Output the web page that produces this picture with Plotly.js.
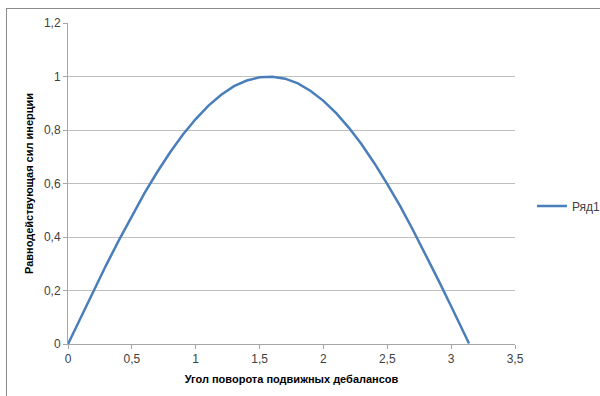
<!DOCTYPE html>
<html>
<head>
<meta charset="utf-8">
<script src="https://cdn.plot.ly/plotly-3.0.1.min.js"></script>
<style>
  html, body { margin: 0; padding: 0; background: #ffffff; overflow: hidden; }
  #wrap { position: relative; width: 600px; height: 396px; }
  #chart { position: absolute; left: 0; top: 0; width: 600px; height: 396px; }
  #frame { position: absolute; left: 6px; top: 8px; width: 700px; height: 500px;
           border: 1px solid #8a8a8a; pointer-events: none; }
</style>
</head>
<body>
<div id="wrap">
  <div id="chart"></div>
  <div id="frame"></div>
</div>
<script>
// Angle of rotation of the movable unbalances (rad)
const angle = [0, 0.1, 0.2, 0.3, 0.4, 0.5, 0.6, 0.7, 0.8, 0.9, 1.0,
               1.1, 1.2, 1.3, 1.4, 1.5, 1.6, 1.7, 1.8, 1.9, 2.0,
               2.1, 2.2, 2.3, 2.4, 2.5, 2.6, 2.7, 2.8, 2.9, 3.0, 3.1, 3.14];
// Resultant of the inertia forces (relative)
const force = [0, 0.1, 0.199, 0.296, 0.389, 0.479, 0.565, 0.644, 0.717, 0.783, 0.841,
               0.891, 0.932, 0.964, 0.985, 0.997, 0.999, 0.992, 0.974, 0.946, 0.909,
               0.863, 0.808, 0.746, 0.675, 0.598, 0.516, 0.427, 0.335, 0.239, 0.141, 0.042, 0.002];
const seriesName = 'Ряд1';
const xTitle = 'Угол поворота подвижных дебалансов';
const yTitle = 'Равнодействующая сил инерции';

const font = 'Liberation Sans, Arial, sans-serif';

Plotly.newPlot('chart', [{
  x: angle,
  y: force,
  type: 'scatter',
  mode: 'lines',
  name: seriesName,
  line: { color: '#4a7ebb', width: 2.5 }
}], {
  width: 600,
  height: 396,
  margin: { l: 68, r: 85, t: 23, b: 52, autoexpand: false },
  paper_bgcolor: 'rgba(0,0,0,0)',
  plot_bgcolor: '#ffffff',
  separators: ', ',
  font: { family: font, size: 12, color: '#404040' },
  showlegend: true,
  legend: {
    x: 1.038, y: 0.43, xanchor: 'left', yanchor: 'middle',
    font: { family: font, size: 12, color: '#404040' },
    bgcolor: 'rgba(0,0,0,0)', itemwidth: 30
  },
  xaxis: {
    range: [0, 3.5],
    dtick: 0.5,
    tick0: 0,
    showgrid: false,
    zeroline: false,
    showline: true,
    linecolor: '#a6a6a6',
    linewidth: 1,
    ticks: 'outside',
    ticklen: 4,
    tickcolor: '#a6a6a6',
    tickfont: { family: font, size: 12, color: '#404040' },
    title: { text: xTitle, standoff: 9,
             font: { family: font, size: 11, color: '#000000', weight: 'bold' } }
  },
  yaxis: {
    range: [0, 1.2],
    dtick: 0.2,
    tick0: 0,
    showgrid: true,
    gridcolor: '#bfbfbf',
    gridwidth: 1,
    zeroline: false,
    showline: true,
    linecolor: '#a6a6a6',
    linewidth: 1,
    ticks: 'outside',
    ticklen: 4,
    tickcolor: '#a6a6a6',
    tickfont: { family: font, size: 12, color: '#404040' },
    title: { text: yTitle, standoff: 8,
             font: { family: font, size: 11, color: '#000000', weight: 'bold' } }
  }
}, { staticPlot: true });
</script>
</body>
</html>
